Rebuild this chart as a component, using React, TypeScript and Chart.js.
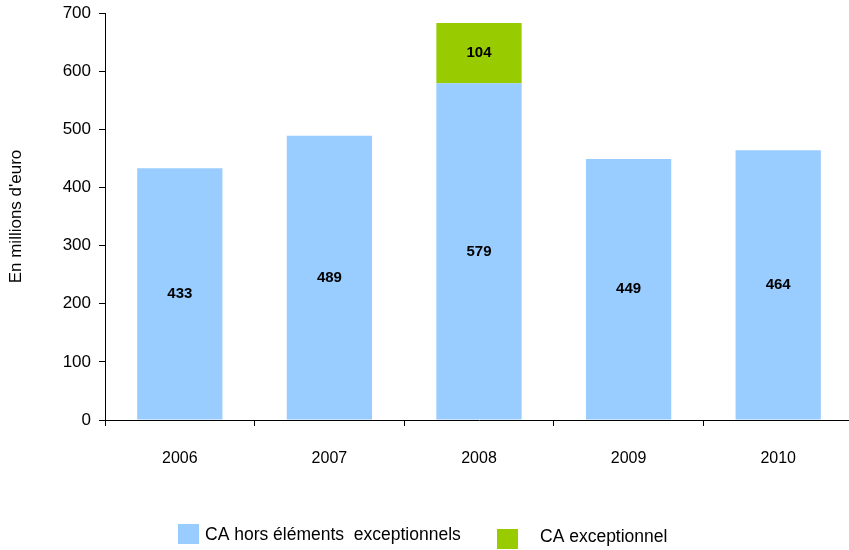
import React, { useEffect, useRef } from "react";
import { Chart, registerables } from "chart.js";

Chart.register(...registerables);

const categories = ["2006", "2007", "2008", "2009", "2010"];
const baseValues = [433, 489, 579, 449, 464];
const exceptionalValues = [null, null, 104, null, null];
const seriesLabels = ["CA hors éléments  exceptionnels", "CA exceptionnel"];
const yTicks = [0, 100, 200, 300, 400, 500, 600, 700];
const yTitle = "En millions d'euro";

const BLUE = "#99CCFF";
const GREEN = "#99CC00";
const FONT = "'Liberation Sans', Arial, sans-serif";

const valueLabels = {
  id: "valueLabels",
  afterDatasetsDraw(chart: any) {
    const ctx = chart.ctx;
    ctx.save();
    ctx.font = `bold 15px ${FONT}`;
    ctx.fillStyle = "#000";
    ctx.textAlign = "center";
    ctx.textBaseline = "middle";
    chart.data.datasets.forEach((ds: any, di: number) => {
      const meta = chart.getDatasetMeta(di);
      meta.data.forEach((bar: any, i: number) => {
        const v = ds.data[i];
        if (v == null) return;
        const p = bar.getProps(["x", "y", "base"], true);
        ctx.fillText(String(v), p.x, (p.y + p.base) / 2);
      });
    });
    ctx.restore();
  },
};

const customLegend = {
  id: "customLegend",
  afterDraw(chart: any) {
    const ctx = chart.ctx;
    const ds = chart.data.datasets;
    ctx.save();
    ctx.font = `17.5px ${FONT}`;
    ctx.textBaseline = "middle";
    ctx.textAlign = "left";
    ctx.fillStyle = ds[0].backgroundColor;
    ctx.fillRect(178, 524, 21, 20);
    ctx.fillStyle = "#000";
    ctx.fillText(ds[0].label, 205, 535);
    ctx.fillStyle = ds[1].backgroundColor;
    ctx.fillRect(497, 529, 21, 20);
    ctx.fillStyle = "#000";
    ctx.fillText(ds[1].label, 540, 537);
    ctx.restore();
  },
};

export default function App() {
  const ref = useRef<HTMLCanvasElement | null>(null);

  useEffect(() => {
    document.body.style.margin = "0";
    const canvas = ref.current!;
    const chart = new Chart(canvas, {
      type: "bar",
      data: {
        labels: categories,
        datasets: [
          {
            label: seriesLabels[0],
            data: baseValues,
            backgroundColor: BLUE,
            borderWidth: 0,
            categoryPercentage: 1,
            barPercentage: 0.57,
          },
          {
            label: seriesLabels[1],
            data: exceptionalValues as any,
            backgroundColor: GREEN,
            borderWidth: 0,
            categoryPercentage: 1,
            barPercentage: 0.57,
          },
        ],
      },
      options: {
        animation: false,
        responsive: false,
        devicePixelRatio: 1,
        layout: { padding: { left: 0, top: 13, right: 7, bottom: 0 } },
        plugins: {
          legend: { display: false },
          tooltip: { enabled: false },
        },
        scales: {
          x: {
            stacked: true,
            grid: {
              display: true,
              offset: true,
              drawOnChartArea: false,
              drawTicks: true,
              tickLength: 6,
              color: "#000",
            },
            border: { display: true, color: "#000", width: 1 },
            ticks: {
              color: "#000",
              font: { family: FONT, size: 16 },
              padding: 23,
              maxRotation: 0,
            },
            afterFit(scale: any) {
              scale.height = 130;
              scale.paddingLeft = 0;
              scale.paddingRight = 0;
            },
          },
          y: {
            stacked: true,
            min: 0,
            max: 700,
            afterBuildTicks(scale: any) {
              scale.ticks = yTicks.map((v) => ({ value: v }));
            },
            grid: {
              display: true,
              drawOnChartArea: false,
              drawTicks: true,
              tickLength: 6,
              color: "#000",
            },
            border: { display: true, color: "#000", width: 1 },
            ticks: {
              color: "#000",
              font: { family: FONT, size: 17 },
              padding: 8,
            },
            title: {
              display: true,
              text: yTitle,
              color: "#000",
              font: { family: FONT, size: 17 },
              padding: { top: 6, bottom: 0 },
            },
            afterFit(scale: any) {
              scale.width = 105;
              scale.paddingTop = 0;
              scale.paddingBottom = 0;
            },
          },
        },
      },
      plugins: [valueLabels, customLegend],
    });
    return () => chart.destroy();
  }, []);

  return (
    <div style={{ width: 849, height: 550, overflow: "hidden", position: "relative" }}>
      <canvas
        ref={ref}
        width={860}
        height={550}
        style={{ position: "absolute", left: 0, top: 0, width: 860, height: 550 }}
      />
    </div>
  );
}
